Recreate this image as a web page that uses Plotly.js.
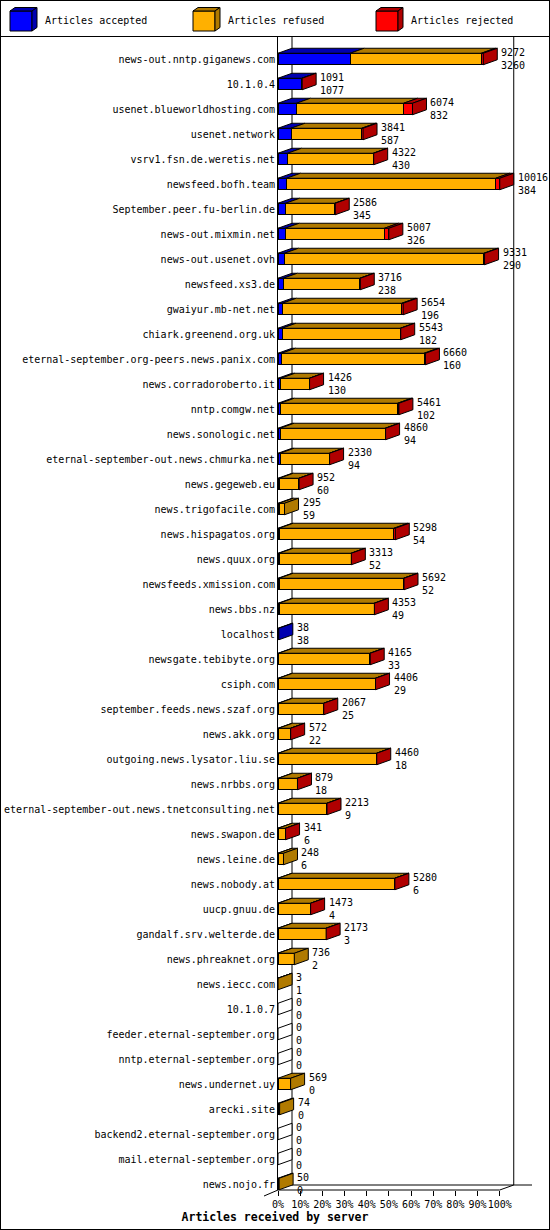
<!DOCTYPE html>
<html>
<head>
<meta charset="utf-8">
<script src="https://cdn.plot.ly/plotly-3.0.1.min.js"></script>
<style>
  body { margin: 0; background: #fff; }
  #wrap { position: relative; width: 550px; height: 1230px; }
  #chart { width: 550px; height: 1230px; }
  #sep { position: absolute; left: 0; top: 36px; width: 550px; height: 1px; background: #000; }
  #frame { position: absolute; left: 0; top: 0; width: 550px; height: 1230px; box-sizing: border-box; border: 1px solid #000; pointer-events: none; }
</style>
</head>
<body>
<div id="wrap"><div id="chart"></div><div id="sep"></div><div id="frame"></div></div>
<script>
const servers = [
  "news-out.nntp.giganews.com", "10.1.0.4", "usenet.blueworldhosting.com", "usenet.network",
  "vsrv1.fsn.de.weretis.net", "newsfeed.bofh.team", "September.peer.fu-berlin.de", "news-out.mixmin.net",
  "news-out.usenet.ovh", "newsfeed.xs3.de", "gwaiyur.mb-net.net", "chiark.greenend.org.uk",
  "eternal-september.org-peers.news.panix.com", "news.corradoroberto.it", "nntp.comgw.net", "news.sonologic.net",
  "eternal-september-out.news.chmurka.net", "news.gegeweb.eu", "news.trigofacile.com", "news.hispagatos.org",
  "news.quux.org", "newsfeeds.xmission.com", "news.bbs.nz", "localhost",
  "newsgate.tebibyte.org", "csiph.com", "september.feeds.news.szaf.org", "news.akk.org",
  "outgoing.news.lysator.liu.se", "news.nrbbs.org", "eternal-september-out.news.tnetconsulting.net", "news.swapon.de",
  "news.leine.de", "news.nobody.at", "uucp.gnuu.de", "gandalf.srv.welterde.de",
  "news.phreaknet.org", "news.iecc.com", "10.1.0.7", "feeder.eternal-september.org",
  "nntp.eternal-september.org", "news.undernet.uy", "arecki.site", "backend2.eternal-september.org",
  "mail.eternal-september.org", "news.nojo.fr"
];
// articles received per server (upper label)
const totals = [
  9272, 1091, 6074, 3841, 4322, 10016, 2586, 5007, 9331, 3716, 5654, 5543,
  6660, 1426, 5461, 4860, 2330, 952, 295, 5298, 3313, 5692, 4353, 38,
  4165, 4406, 2067, 572, 4460, 879, 2213, 341, 248, 5280, 1473, 2173,
  736, 3, 0, 0, 0, 569, 74, 0, 0, 50
];
// articles accepted (lower label)
const accepted = [
  3260, 1077, 832, 587, 430, 384, 345, 326, 290, 238, 196, 182,
  160, 130, 102, 94, 94, 60, 59, 54, 52, 52, 49, 38,
  33, 29, 25, 22, 18, 18, 9, 6, 6, 6, 4, 3,
  2, 1, 0, 0, 0, 0, 0, 0, 0, 0
];
// articles rejected, estimated from the red part of each bar
const rejected = [
  90, 14, 400, 60, 20, 180, 20, 200, 30, 20, 60, 20,
  60, 10, 60, 20, 10, 5, 0, 60, 10, 20, 10, 0,
  10, 10, 5, 5, 10, 5, 5, 3, 0, 5, 3, 3,
  0, 0, 0, 0, 0, 0, 0, 0, 0, 0
];
const refused = totals.map((t, i) => t - accepted[i] - rejected[i]);

const seriesNames = ["Articles accepted", "Articles refused", "Articles rejected"];
const frontColors = ["#0000ff", "#ffb000", "#ff0000"];
const darkColors = ["#0000b0", "#b07a00", "#b00000"];
const mono = "DejaVu Sans Mono, monospace";

// page geometry
const W = 550, H = 1230;
const M = { l: 278, r: 17, t: 37, b: 40 };
const XMAX = 115;
const plotW = W - M.l - M.r, plotH = H - M.t - M.b;
const pxPerX = plotW / XMAX;
const pxPerRow = 25;
const yTop = -(59 - M.t) / pxPerRow;
const yBottom = yTop + plotH / pxPerRow;
const depthX = 14 / pxPerX, depthY = 5 / pxPerRow;
const half = 0.23;

const maxTotal = Math.max(...totals);
const pct = v => v / maxTotal * 100;
const rows = servers.map((_, i) => i);
const segs = [accepted, refused, rejected];

// front faces
const barTraces = segs.map((vals, k) => ({
  type: "bar", orientation: "h", name: seriesNames[k],
  x: vals.map(pct), y: rows, width: 2 * half,
  marker: { color: frontColors[k], line: { color: "#000", width: 1 } },
  hoverinfo: "skip", showlegend: false
}));

// top and side faces for the 3d look
const tops = [0, 1, 2].map(() => ({ x: [], y: [] }));
const sides = [0, 1, 2, 3].map(() => ({ x: [], y: [] }));
function addPoly(obj, pts) {
  pts.concat([pts[0]]).forEach(p => { obj.x.push(p[0]); obj.y.push(p[1]); });
  obj.x.push(null); obj.y.push(null);
}
rows.forEach(i => {
  const yT = i - half, yB = i + half;
  let x0 = 0, last = 3;
  segs.forEach((vals, k) => {
    const x1 = x0 + pct(vals[i]);
    if (vals[i] > 0) {
      addPoly(tops[k], [[x0, yT], [x1, yT], [x1 + depthX, yT - depthY], [x0 + depthX, yT - depthY]]);
      last = k;
    }
    x0 = x1;
  });
  addPoly(sides[last], [[x0, yT], [x0 + depthX, yT - depthY], [x0 + depthX, yB - depthY], [x0, yB]]);
});
const face = (pts, fill) => ({
  type: "scatter", mode: "lines", x: pts.x, y: pts.y,
  fill: "toself", fillcolor: fill, line: { color: "#000", width: 1 },
  hoverinfo: "skip", showlegend: false
});
const faceTraces = tops.map((p, k) => face(p, darkColors[k]))
  .concat(sides.map((p, k) => face(p, k < 3 ? darkColors[k] : "#fff")));

// total / accepted labels next to each bar
const labelAnn = rows.map(i => ({
  x: pct(totals[i]), y: i, xref: "x", yref: "y",
  text: totals[i] + "<br>" + accepted[i],
  showarrow: false, xanchor: "left", yanchor: "middle", align: "left", xshift: 16,
  font: { family: mono, size: 10, color: "#000" }
}));

// pixel -> paper helpers for frame and legend
const px = x => (x - M.l) / plotW;
const py = y => (H - M.b - y) / plotH;
const line = (x0, y0, x1, y1) => ({
  type: "line", xref: "paper", yref: "paper", layer: "below",
  x0: px(x0), y0: py(y0), x1: px(x1), y1: py(y1), line: { color: "#000", width: 1 }
});
const front100 = M.l + 100 * pxPerX;
const frame = [
  line(M.l + 14, M.t, M.l + 14, 1185),
  line(front100 + 14, M.t, front100 + 14, 1185),
  line(M.l + 14, 1185, 532, 1185),
  line(M.l, 1190, front100, 1190),
  line(M.l - 14, 1196, M.l, 1190),
  line(front100, 1190, front100 + 14, 1185)
];

const path = (pts, fill) => ({
  type: "path", xref: "paper", yref: "paper",
  path: "M" + pts.map(p => px(p[0]) + "," + py(p[1])).join("L") + "Z",
  fillcolor: fill, line: { color: "#000", width: 1 }
});
const legendShapes = [], legendAnn = [];
seriesNames.forEach((name, k) => {
  const x0 = 10 + 183 * k;
  legendShapes.push(path([[x0, 11], [x0 + 22, 11], [x0 + 22, 31], [x0, 31]], frontColors[k]));
  legendShapes.push(path([[x0, 11], [x0 + 22, 11], [x0 + 27, 7.5], [x0 + 5, 7.5]], darkColors[k]));
  legendShapes.push(path([[x0 + 22, 11], [x0 + 27, 7.5], [x0 + 27, 27.5], [x0 + 22, 31]], darkColors[k]));
  legendAnn.push({
    xref: "paper", yref: "paper", x: px(x0 + 33), y: py(21), text: name,
    showarrow: false, xanchor: "left", yanchor: "middle",
    font: { family: mono, size: 10, color: "#000" }
  });
});

const layout = {
  width: W, height: H,
  margin: M,
  barmode: "stack",
  paper_bgcolor: "#fff",
  plot_bgcolor: "rgba(0,0,0,0)",
  showlegend: false,
  font: { family: mono, size: 10, color: "#000" },
  title: {
    text: "<b>Articles received by server</b>",
    font: { family: mono, size: 11.5, color: "#000" },
    xref: "container", x: 0.5, xanchor: "center",
    yref: "container", y: 1 - 1217 / H, yanchor: "middle"
  },
  xaxis: {
    range: [0, XMAX],
    tickvals: [0, 10, 20, 30, 40, 50, 60, 70, 80, 90, 100],
    ticktext: ["0%", "10%", "20%", "30%", "40%", "50%", "60%", "70%", "80%", "90%", "100%"],
    ticks: "outside", ticklen: 5, tickwidth: 1, tickcolor: "#000", tickangle: 0,
    showgrid: false, zeroline: false, showline: false,
    tickfont: { family: mono, size: 10, color: "#000" }
  },
  yaxis: {
    range: [yBottom, yTop],
    tickvals: rows, ticktext: servers,
    ticks: "", showgrid: false, zeroline: false,
    showline: true, linecolor: "#000", linewidth: 1,
    tickfont: { family: mono, size: 10, color: "#000" }
  },
  shapes: frame.concat(legendShapes),
  annotations: labelAnn.concat(legendAnn)
};

Plotly.newPlot("chart", barTraces.concat(faceTraces), layout, { displayModeBar: false, staticPlot: true });
</script>
</body>
</html>
